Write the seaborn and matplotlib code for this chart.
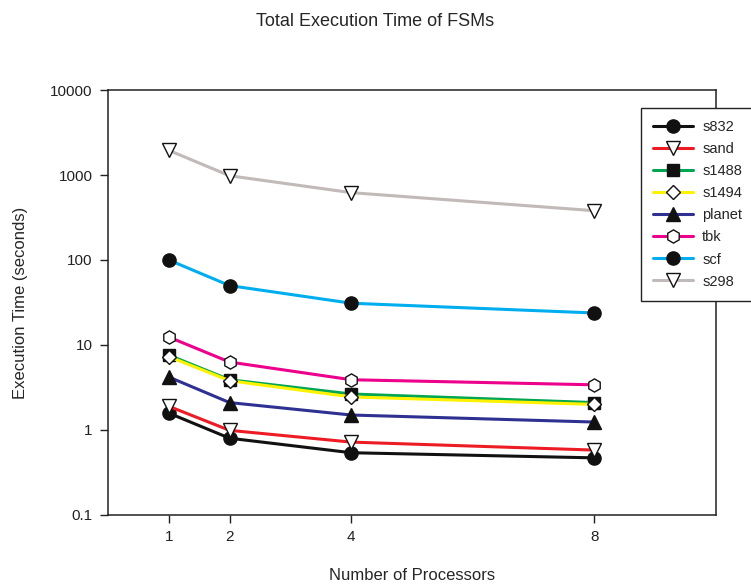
import matplotlib
matplotlib.use("Agg")
import matplotlib.pyplot as plt
import seaborn as sns
import pandas as pd

# processors on the x axis
procs = [1, 2, 4, 8]

# execution times (seconds)
s832 = [1.58, 0.80, 0.54, 0.47]
sand = [1.90, 0.99, 0.72, 0.58]
s1488 = [7.6, 3.9, 2.65, 2.1]
s1494 = [7.3, 3.8, 2.45, 2.0]
planet = [4.2, 2.1, 1.5, 1.24]
tbk = [12.4, 6.3, 3.9, 3.4]
scf = [100, 50, 31, 23.8]
s298 = [1950, 980, 620, 380]

names = ["s832", "sand", "s1488", "s1494", "planet", "tbk", "scf", "s298"]
series = [s832, sand, s1488, s1494, planet, tbk, scf, s298]
colors = ["#111111", "#ed1c24", "#00a651", "#fff200", "#2e3192", "#ec008c", "#00aeef", "#c2b9b9"]
markers = ["o", "v", "s", "D", "^", "h", "o", "v"]
faces = ["#111111", "white", "#111111", "white", "#111111", "white", "#111111", "white"]
sizes = [9.5, 9.5, 8.5, 7.5, 9.5, 9.5, 9.5, 9.5]

yticks = [0.1, 1, 10, 100, 1000, 10000]
ytick_labels = ["0.1", "1", "10", "100", "1000", "10000"]

sns.set_style("ticks")
plt.rcParams["font.family"] = ["Liberation Sans", "DejaVu Sans"]

fig = plt.figure(figsize=(7.51, 5.86), dpi=100)
ax = fig.add_axes([0.1438, 0.1212, 0.8096, 0.7252])

for name, vals, c, m, fc, ms in zip(names, series, colors, markers, faces, sizes):
    df = pd.DataFrame({"procs": procs, "time": vals})
    sns.lineplot(data=df, x="procs", y="time", ax=ax, color=c, lw=2.2,
                 marker=m, markersize=ms, markerfacecolor=fc,
                 markeredgecolor="#111111", markeredgewidth=1.0, label=name)

ax.set_yscale("log")
ax.set_ylim(0.1, 10000)
ax.set_xlim(0, 10)
ax.set_xticks(procs)
ax.set_xticklabels([str(p) for p in procs])
ax.set_yticks(yticks)
ax.set_yticklabels(ytick_labels)
ax.minorticks_off()
ax.tick_params(direction="out", length=6, width=1, pad=5, labelsize=11, colors="#222222")
for sp in ax.spines.values():
    sp.set_visible(True)
    sp.set_color("#222222")
    sp.set_linewidth(1.1)

ax.set_xlabel("Number of Processors", fontsize=12, labelpad=17)
ax.set_ylabel("Execution Time (seconds)", fontsize=12, labelpad=16)
fig.suptitle("Total Execution Time of FSMs", fontsize=13, y=0.978)

leg = ax.legend(loc="upper left", bbox_to_anchor=(0.8535, 0.8157),
                bbox_transform=fig.transFigure, borderaxespad=0,
                fancybox=False, framealpha=1, edgecolor="#222222",
                fontsize=10.5, handlelength=2.75, labelspacing=0.55,
                borderpad=0.85, handletextpad=0.6)
leg.get_frame().set_linewidth(1.0)

fig.savefig("out.png", dpi=100)
